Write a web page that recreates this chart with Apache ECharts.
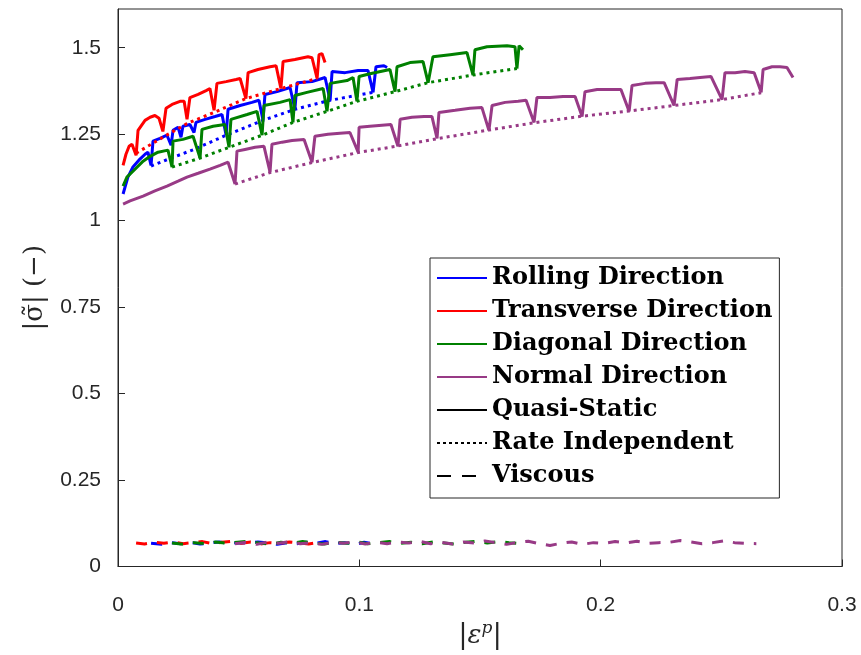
<!DOCTYPE html>
<html><head><meta charset="utf-8">
<script src="https://cdn.jsdelivr.net/npm/echarts@6/dist/echarts.min.js"></script>
<style>html,body{margin:0;padding:0;background:#fff}#c{width:861px;height:655px}</style>
</head><body><div id="c"></div>
<script>
// ---- axes ----
const xTicks = [0, 0.1, 0.2, 0.3];
const yTicks = [0, 0.25, 0.5, 0.75, 1, 1.25, 1.5];
const yMax = 1.612;

// ---- legend names ----
const directionNames = ['Rolling Direction', 'Transverse Direction', 'Diagonal Direction', 'Normal Direction'];
const modelNames = ['Quasi-Static', 'Rate Independent', 'Viscous'];

// ---- Rolling direction ----
const rollingQS = [[0.0021,1.077],[0.0041,1.126],[0.0062,1.155],[0.0091,1.178],[0.0112,1.192],[0.0124,1.198],[0.0137,1.160],
[0.0145,1.230],[0.0174,1.238],[0.0203,1.247],[0.0220,1.218],
[0.0228,1.261],[0.0249,1.270],[0.0261,1.241],
[0.0269,1.273],[0.0298,1.278],[0.0315,1.255],
[0.0323,1.284],[0.0361,1.293],[0.0402,1.301],[0.0431,1.307],[0.0448,1.247],
[0.0456,1.322],[0.0506,1.333],[0.0555,1.342],[0.0584,1.348],[0.0601,1.290],
[0.0609,1.365],[0.0659,1.373],[0.0713,1.385],[0.0733,1.322],
[0.0742,1.399],[0.0804,1.402],[0.0858,1.414],[0.0879,1.348],
[0.0887,1.431],[0.0941,1.428],[0.0995,1.434],[0.1036,1.434],[0.1057,1.371],
[0.1069,1.445],[0.1102,1.448],[0.1115,1.443]];
const rollingRI = [[0.0137,1.158],[0.0220,1.181],[0.0315,1.206],[0.0448,1.247],[0.0601,1.290],[0.0733,1.322],[0.0879,1.348],[0.1057,1.371]];
const rollingV = [[0.0137,0.067],[0.0180,0.064],[0.0220,0.069],[0.0260,0.066],[0.0300,0.070],[0.0340,0.065],[0.0380,0.068],[0.0420,0.071],[0.0460,0.066],[0.0500,0.069],[0.0540,0.067],[0.0580,0.071],[0.0620,0.068],[0.0660,0.064],[0.0700,0.069],[0.0740,0.066],[0.0780,0.070],[0.0820,0.067],[0.0860,0.072],[0.0900,0.066],[0.0940,0.069],[0.0980,0.064],[0.1020,0.070],[0.1057,0.066]];

// ---- Transverse direction ----
const transverseQS = [[0.0021,1.160],[0.0033,1.192],[0.0046,1.215],[0.0058,1.221],[0.0075,1.189],
[0.0083,1.261],[0.0112,1.290],[0.0133,1.299],[0.0153,1.304],[0.0170,1.296],[0.0186,1.258],
[0.0199,1.325],[0.0224,1.336],[0.0257,1.345],[0.0274,1.345],[0.0286,1.293],
[0.0298,1.356],[0.0332,1.365],[0.0365,1.376],[0.0381,1.382],[0.0398,1.319],
[0.0410,1.397],[0.0448,1.402],[0.0489,1.408],[0.0506,1.411],[0.0530,1.353],
[0.0539,1.428],[0.0580,1.437],[0.0630,1.445],[0.0655,1.448],[0.0675,1.382],
[0.0684,1.460],[0.0733,1.466],[0.0787,1.474],[0.0804,1.471],[0.0825,1.411],
[0.0833,1.480],[0.0845,1.483],[0.0858,1.457]];
const transverseRI = [[0.0075,1.195],[0.0186,1.241],[0.0286,1.281],[0.0398,1.313],[0.0530,1.353],[0.0675,1.382],[0.0825,1.411]];
const transverseV = [[0.0075,0.068],[0.0110,0.065],[0.0150,0.070],[0.0190,0.067],[0.0230,0.071],[0.0270,0.066],[0.0310,0.069],[0.0350,0.072],[0.0390,0.066],[0.0430,0.070],[0.0470,0.073],[0.0510,0.067],[0.0550,0.071],[0.0590,0.065],[0.0630,0.069],[0.0670,0.067],[0.0710,0.071],[0.0750,0.068],[0.0790,0.065],[0.0825,0.069]];

// ---- Diagonal direction ----
const diagonalQS = [[0.0021,1.100],[0.0037,1.126],[0.0062,1.143],[0.0104,1.172],[0.0133,1.186],[0.0166,1.198],[0.0207,1.204],[0.0224,1.155],
[0.0228,1.230],[0.0269,1.235],[0.0311,1.244],[0.0340,1.181],
[0.0348,1.264],[0.0394,1.273],[0.0443,1.278],[0.0460,1.212],
[0.0468,1.293],[0.0535,1.307],[0.0576,1.316],[0.0597,1.247],
[0.0605,1.333],[0.0671,1.342],[0.0713,1.350],[0.0725,1.284],
[0.0733,1.362],[0.0783,1.371],[0.0850,1.382],[0.0866,1.316],
[0.0879,1.397],[0.0949,1.405],[0.0974,1.414],[0.0990,1.345],
[0.0999,1.417],[0.1044,1.425],[0.1127,1.437],[0.1148,1.373],
[0.1156,1.445],[0.1210,1.457],[0.1264,1.460],[0.1285,1.399],
[0.1305,1.474],[0.1376,1.480],[0.1446,1.486],[0.1471,1.421],
[0.1479,1.494],[0.1529,1.503],[0.1612,1.506],[0.1645,1.503],[0.1653,1.440],
[0.1662,1.506],[0.1678,1.494]];
const diagonalRI = [[0.0224,1.155],[0.0340,1.181],[0.0460,1.212],[0.0597,1.247],[0.0725,1.284],[0.0866,1.316],[0.0990,1.345],[0.1148,1.373],[0.1285,1.399],[0.1471,1.421],[0.1653,1.440]];
const diagonalV = [[0.0224,0.068],[0.0270,0.064],[0.0315,0.069],[0.0360,0.066],[0.0405,0.071],[0.0450,0.067],[0.0495,0.070],[0.0540,0.073],[0.0585,0.068],[0.0630,0.064],[0.0675,0.070],[0.0720,0.067],[0.0765,0.072],[0.0810,0.068],[0.0855,0.065],[0.0900,0.070],[0.0945,0.067],[0.0990,0.071],[0.1035,0.066],[0.1080,0.069],[0.1125,0.072],[0.1170,0.067],[0.1215,0.070],[0.1260,0.066],[0.1305,0.071],[0.1350,0.068],[0.1395,0.065],[0.1440,0.070],[0.1485,0.073],[0.1530,0.068],[0.1575,0.072],[0.1620,0.069],[0.1653,0.067]];

// ---- Normal direction ----
const normalQS = [[0.0021,1.048],[0.0050,1.057],[0.0104,1.071],[0.0153,1.086],[0.0203,1.100],[0.0249,1.114],[0.0286,1.126],[0.0332,1.137],[0.0381,1.149],[0.0423,1.160],[0.0456,1.169],[0.0485,1.106],
[0.0493,1.201],[0.0526,1.206],[0.0568,1.212],[0.0605,1.215],[0.0630,1.140],
[0.0638,1.221],[0.0680,1.227],[0.0721,1.232],[0.0771,1.235],[0.0804,1.169],
[0.0816,1.244],[0.0870,1.250],[0.0920,1.253],[0.0961,1.255],[0.0995,1.198],
[0.0999,1.270],[0.1044,1.273],[0.1094,1.276],[0.1131,1.278],[0.1160,1.215],
[0.1169,1.293],[0.1218,1.299],[0.1268,1.301],[0.1301,1.301],[0.1322,1.238],
[0.1330,1.313],[0.1397,1.319],[0.1459,1.325],[0.1508,1.327],[0.1537,1.261],
[0.1550,1.333],[0.1604,1.342],[0.1658,1.345],[0.1691,1.348],[0.1724,1.284],
[0.1736,1.356],[0.1790,1.356],[0.1844,1.359],[0.1894,1.359],[0.1923,1.301],
[0.1935,1.373],[0.1985,1.379],[0.2039,1.379],[0.2084,1.379],[0.2118,1.316],
[0.2130,1.391],[0.2184,1.397],[0.2229,1.399],[0.2263,1.399],[0.2304,1.333],
[0.2317,1.408],[0.2370,1.411],[0.2412,1.414],[0.2457,1.417],[0.2503,1.350],
[0.2515,1.428],[0.2557,1.428],[0.2598,1.431],[0.2636,1.428],[0.2665,1.371],
[0.2673,1.437],[0.2710,1.445],[0.2743,1.445],[0.2772,1.443],[0.2797,1.414]];
const normalRI = [[0.0485,1.106],[0.0630,1.139],[0.0804,1.168],[0.0995,1.197],[0.1160,1.216],[0.1322,1.237],[0.1537,1.262],[0.1724,1.283],[0.1923,1.302],[0.2118,1.317],[0.2304,1.333],[0.2503,1.350],[0.2665,1.370]];
const normalV = [[0.0485,0.066],[0.0530,0.070],[0.0575,0.064],[0.0620,0.071],[0.0665,0.067],[0.0710,0.072],[0.0755,0.066],[0.0800,0.069],[0.0845,0.064],[0.0890,0.070],[0.0935,0.067],[0.0980,0.072],[0.1025,0.065],[0.1070,0.070],[0.1115,0.066],[0.1160,0.071],[0.1205,0.068],[0.1250,0.073],[0.1295,0.066],[0.1340,0.070],[0.1385,0.065],[0.1430,0.071],[0.1475,0.068],[0.1520,0.074],[0.1565,0.069],[0.1610,0.064],[0.1655,0.070],[0.1700,0.073],[0.1745,0.066],[0.1790,0.061],[0.1835,0.067],[0.1880,0.071],[0.1925,0.064],[0.1970,0.069],[0.2015,0.067],[0.2060,0.072],[0.2105,0.068],[0.2150,0.073],[0.2195,0.067],[0.2240,0.069],[0.2285,0.070],[0.2330,0.075],[0.2375,0.071],[0.2420,0.066],[0.2465,0.069],[0.2510,0.074],[0.2555,0.069],[0.2600,0.067],[0.2645,0.066]];

// ---- styling ----
const colors = ['#0000ff', '#ff0000', '#008000', '#983a86'];
const dataSets = [
  [rollingQS, rollingRI, rollingV],
  [transverseQS, transverseRI, transverseV],
  [diagonalQS, diagonalRI, diagonalV],
  [normalQS, normalRI, normalV]
];
const lineTypes = ['solid', [3, 4], [11, 10]];
const legendLineTypes = ['solid', [3, 3], [14, 11]];

const series = [];
dataSets.forEach((sets, i) => {
  sets.forEach((d, j) => {
    series.push({
      name: directionNames[i] + ' ' + modelNames[j] + ' data',
      type: 'line', data: d, symbol: 'none', silent: true,
      lineStyle: { color: colors[i], width: 3, type: lineTypes[j] },
      itemStyle: { color: colors[i] },
      z: 2
    });
  });
});
directionNames.forEach((n, i) => {
  series.push({ name: n, type: 'line', data: [], symbol: 'none',
    lineStyle: { color: colors[i], width: 3, type: 'solid' }, itemStyle: { color: colors[i] } });
});
modelNames.forEach((n, j) => {
  series.push({ name: n, type: 'line', data: [], symbol: 'none',
    lineStyle: { color: '#000', width: 3, type: legendLineTypes[j] }, itemStyle: { color: '#000' } });
});

const axisColor = '#262626';
const chart = echarts.init(document.getElementById('c'), null, { renderer: 'canvas' });
chart.setOption({
  animation: false,
  backgroundColor: '#fff',
  grid: { left: 118, right: 19, top: 9, bottom: 86, show: true, borderColor: axisColor, borderWidth: 1, backgroundColor: 'transparent' },
  xAxis: {
    type: 'value', min: xTicks[0], max: xTicks[xTicks.length - 1], interval: 0.1,
    axisLine: { show: true, lineStyle: { color: axisColor, width: 1 } },
    axisTick: { show: true, inside: true, length: 7, lineStyle: { color: axisColor } },
    splitLine: { show: false },
    axisLabel: { color: axisColor, fontSize: 21, fontFamily: 'Liberation Sans, Arial, sans-serif', margin: 28,
      formatter: v => String(+v.toFixed(2)) },
    name: '{b||}{e|ε}{p|p}{b||}', nameLocation: 'middle', nameGap: 54,
    nameTextStyle: { color: axisColor, rich: {
      b: { fontSize: 28, fontFamily: 'DejaVu Serif', color: axisColor },
      e: { fontSize: 26, fontFamily: 'DejaVu Serif', fontStyle: 'italic', color: axisColor },
      p: { fontSize: 17, fontFamily: 'DejaVu Serif', fontStyle: 'italic', color: axisColor, verticalAlign: 'top', padding: [0, 0, 14, 0] }
    } }
  },
  yAxis: {
    type: 'value', min: yTicks[0], max: yMax, interval: 0.25,
    axisLine: { show: true, lineStyle: { color: axisColor, width: 1 } },
    axisTick: { show: true, inside: true, length: 7, lineStyle: { color: axisColor } },
    splitLine: { show: false },
    axisLabel: { color: axisColor, fontSize: 21, fontFamily: 'Liberation Sans, Arial, sans-serif', margin: 17, showMaxLabel: false,
      formatter: v => String(+v.toFixed(2)) },
    name: '|σ̃| (−)', nameLocation: 'middle', nameGap: 70,
    nameTextStyle: { color: axisColor, fontSize: 26, fontFamily: 'DejaVu Serif' }
  },
  legend: {
    show: true, orient: 'vertical', left: 430, top: 258,
    data: directionNames.concat(modelNames),
    itemWidth: 50, itemHeight: 14, itemGap: 9, itemTextGap: 6,
    padding: [8, 7, 10, 6],
    backgroundColor: '#fff', borderColor: axisColor, borderWidth: 1, borderRadius: 0,
    itemStyle: { opacity: 0 },
    selectedMode: false,
    textStyle: { color: '#000', fontFamily: 'DejaVu Serif', fontWeight: 'bold', fontSize: 24 }
  },
  series: series
});
</script>
</body></html>
